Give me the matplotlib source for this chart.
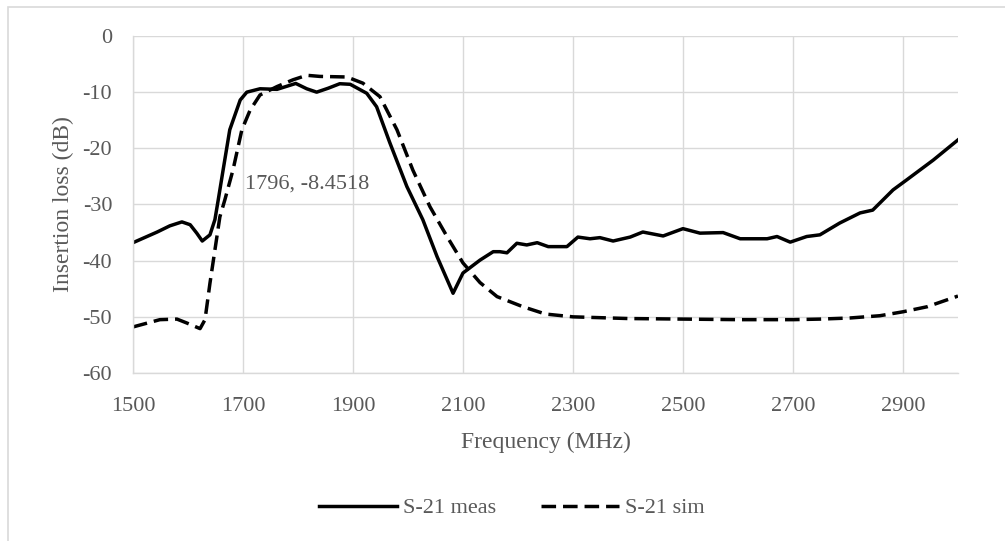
import matplotlib.pyplot as plt
from matplotlib.patches import Rectangle

meas_f = [1500, 1544, 1567, 1589, 1604, 1616, 1626, 1640, 1649, 1655, 1664, 1676,
          1695, 1707, 1731, 1762, 1796, 1816, 1834, 1855, 1876, 1895, 1925, 1943,
          1967, 1998, 2027, 2053, 2082, 2100, 2131, 2155, 2167, 2180, 2198, 2216,
          2235, 2255, 2289, 2309, 2331, 2349, 2373, 2404, 2427, 2464, 2500, 2531,
          2573, 2604, 2653, 2671, 2695, 2725, 2749, 2785, 2822, 2845, 2882, 2907,
          2955, 3000]
meas_v = [-36.8, -34.9, -33.8, -33.1, -33.6, -35.1, -36.5, -35.4, -32.7, -29.2, -23.8, -16.7,
          -11.4, -10.0, -9.4, -9.5, -8.45, -9.4, -10.0, -9.3, -8.5, -8.6, -10.2, -12.6,
          -19.0, -26.8, -32.7, -39.3, -45.8, -42.2, -39.9, -38.4, -38.4, -38.6, -36.9, -37.2,
          -36.8, -37.5, -37.5, -35.8, -36.1, -35.9, -36.5, -35.8, -34.9, -35.6, -34.3, -35.1,
          -35.0, -36.1, -36.1, -35.7, -36.7, -35.7, -35.4, -33.3, -31.5, -31.0, -27.4, -25.6,
          -22.1, -18.5]

# S-21 simulated
sim_f = [1500, 1549, 1580, 1598, 1622, 1631, 1640, 1649, 1658, 1667, 1682, 1698,
         1713, 1731, 1762, 1791, 1816, 1840, 1889, 1918, 1949, 1980, 2009, 2040,
         2071, 2100, 2131, 2162, 2209, 2250, 2300, 2400, 2500, 2600, 2700, 2750,
         2804, 2858, 2900, 2944, 3000]
sim_v = [-51.8, -50.5, -50.4, -51.1, -52.1, -50.5, -44.0, -38.1, -32.2, -29.2, -23.8, -16.7,
         -13.2, -10.5, -9.0, -7.8, -7.0, -7.2, -7.3, -8.4, -10.8, -16.7, -23.9, -30.4,
         -35.7, -40.4, -43.9, -46.4, -48.2, -49.5, -50.0, -50.3, -50.4, -50.5, -50.5, -50.4,
         -50.2, -49.8, -49.1, -48.2, -46.3]

x_ticks = [1500, 1700, 1900, 2100, 2300, 2500, 2700, 2900]
y_ticks = [0, -10, -20, -30, -40, -50, -60]

grey = '#595959'
grid = '#d9d9d9'
plt.rcParams['font.family'] = ['Liberation Serif', 'DejaVu Serif']
plt.rcParams['axes.unicode_minus'] = False

fig = plt.figure(figsize=(10.05, 5.41), dpi=100)
fig.patches.append(Rectangle((8 / 1005, -0.1), 1.2, 1 - 7 / 541 + 0.1,
                             transform=fig.transFigure, fill=False,
                             edgecolor=grid, linewidth=1.2))
ax = fig.add_axes([0.1323, 0.3105, 0.8209, 0.623])

ax.plot(meas_f, meas_v, color='black', lw=2.5, label='S-21 meas')
ax.plot(sim_f, sim_v, color='black', lw=2.5, dashes=(4.2, 2.0), label='S-21 sim')

ax.text(1816, -26.3, '1796, -8.4518', color=grey, fontsize=16,
        ha='center', va='center')

ax.set_xlim(1500, 3000)
ax.set_ylim(-60, 0)
ax.set_xticks(x_ticks)
ax.set_yticks(y_ticks)
ax.grid(True, color=grid, lw=1)
ax.set_axisbelow(True)
for s in ['top', 'right']:
    ax.spines[s].set_visible(False)
for s in ['left', 'bottom']:
    ax.spines[s].set_color(grid)
    ax.spines[s].set_linewidth(1)
ax.tick_params(length=0, labelsize=16, labelcolor=grey)
ax.tick_params(axis='x', pad=17)
ax.tick_params(axis='y', pad=15)
ax.set_xlabel('Frequency (MHz)', fontsize=17, color=grey, labelpad=12)
ax.set_ylabel('Insertion loss (dB)', fontsize=17, color=grey, labelpad=6)

fig.legend(loc='center', bbox_to_anchor=(512 / 1005, 33 / 541), ncol=2,
           frameon=False, fontsize=16, labelcolor=grey, handlelength=3.5,
           handletextpad=0.3, columnspacing=2.0)

fig.savefig('out.png', dpi=100)
